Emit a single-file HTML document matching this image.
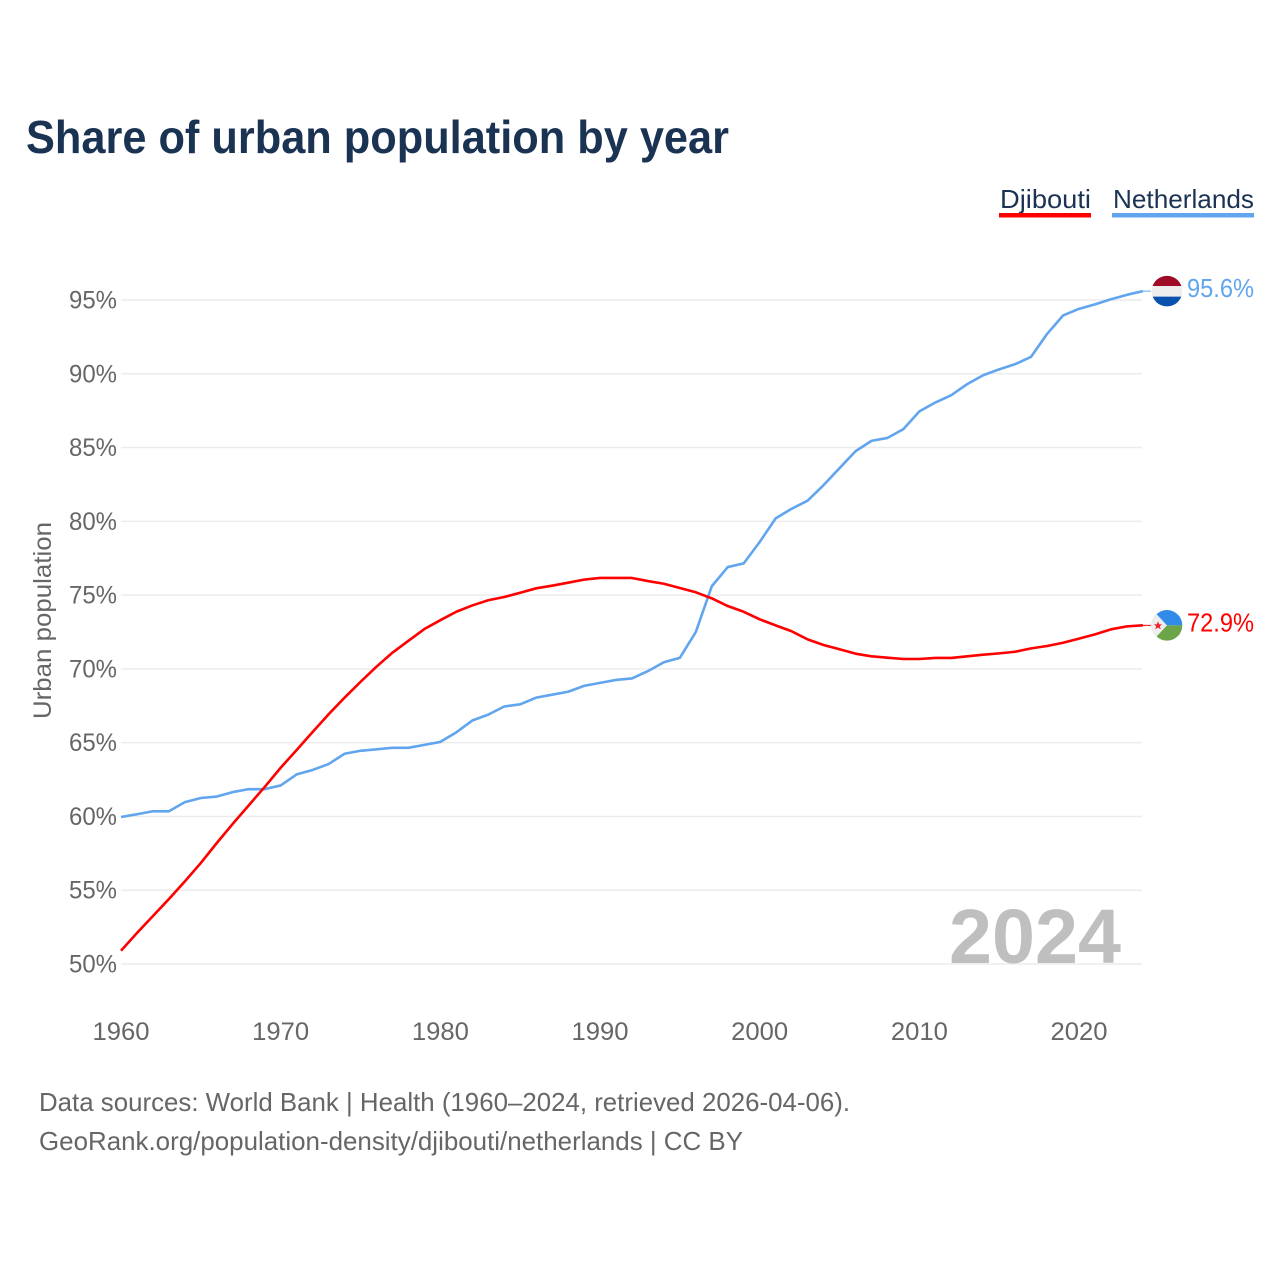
<!DOCTYPE html>
<html lang="en">
<head>
<meta charset="utf-8">
<title>Share of urban population by year</title>
<style>
html,body{margin:0;padding:0;background:#fff;}
svg{display:block;font-family:"Liberation Sans",sans-serif;}
</style>
</head>
<body>
<svg id="chart" xmlns="http://www.w3.org/2000/svg" width="1280" height="1280" viewBox="0 0 1280 1280">
  <defs>
    <clipPath id="flag-clip"><circle cx="0" cy="0" r="15.3"></circle></clipPath>
  </defs>
  <rect x="0" y="0" width="1280" height="1280" fill="#ffffff"></rect>
  <text x="26" y="153" font-size="46" font-weight="700" fill="#1a3353" textLength="703" lengthAdjust="spacingAndGlyphs">Share of urban population by year</text>

  <g>
    <g>
      <text x="1000" y="208" font-size="26" fill="#1a3353" textLength="91" lengthAdjust="spacingAndGlyphs">Djibouti</text>
      <rect x="999" y="213" width="92" height="4.5" fill="#ff0000"></rect>
    </g>
    <g>
      <text x="1113" y="208" font-size="26" fill="#1a3353" textLength="141" lengthAdjust="spacingAndGlyphs">Netherlands</text>
      <rect x="1112" y="213" width="142" height="4.5" fill="#60a5ee"></rect>
    </g>
  </g>

  <g id="grid"></g>
  <text x="1121" y="963" font-size="77" font-weight="700" fill="#bfbfbf" text-anchor="end" textLength="172" lengthAdjust="spacingAndGlyphs">2024</text>
  <g id="yticks"></g>
  <g id="xticks"></g>
  <text transform="translate(51,620.5) rotate(-90)" font-size="25" fill="#666666" text-anchor="middle" textLength="197" lengthAdjust="spacingAndGlyphs">Urban population</text>
  <g id="series"></g>

  <g id="flag-netherlands">
    <g clip-path="url(#flag-clip)">
      <rect x="-16" y="-16" width="32" height="11" fill="#9e0b26"></rect>
      <rect x="-16" y="-5" width="32" height="10.5" fill="#eeeeee"></rect>
      <rect x="-16" y="5.5" width="32" height="11" fill="#0a51ae"></rect>
    </g>
  </g>
  <g id="flag-djibouti">
    <g clip-path="url(#flag-clip)">
      <rect x="-16" y="-16" width="32" height="16" fill="#318be8"></rect>
      <rect x="-16" y="0" width="32" height="16" fill="#6ba547"></rect>
      <polygon points="-13,-14 0,0 -13,14 -17,14 -17,-14" fill="#eeeeee"></polygon>
      <polygon points="-9,-4 -7.8,-1 -4.8,-1 -7.2,0.9 -6.3,4 -9,2.1 -11.7,4 -10.8,0.9 -13.2,-1 -10.2,-1" fill="#e8222c"></polygon>
    </g>
  </g>
  <g id="endlabels"></g>

  <text x="39" y="1111" font-size="26" fill="#666666" textLength="811" lengthAdjust="spacingAndGlyphs">Data sources: World Bank | Health (1960–2024, retrieved 2026-04-06).</text>
  <text x="39" y="1150" font-size="26" fill="#666666" textLength="704" lengthAdjust="spacingAndGlyphs">GeoRank.org/population-density/djibouti/netherlands | CC BY</text>
</svg>
<script>
const firstYear = 1960;
const djibouti = [50.9,52.1,53.25,54.4,55.6,56.85,58.2,59.5,60.75,62.0,63.3,64.5,65.72,66.92,68.05,69.12,70.15,71.1,71.9,72.7,73.3,73.87,74.3,74.65,74.87,75.16,75.46,75.64,75.84,76.05,76.16,76.16,76.16,75.95,75.77,75.48,75.19,74.78,74.26,73.87,73.36,72.95,72.55,72.0,71.62,71.33,71.03,70.85,70.76,70.67,70.67,70.74,70.74,70.85,70.96,71.05,71.16,71.39,71.55,71.77,72.05,72.34,72.68,72.88,72.95];
const netherlands = [59.96,60.15,60.35,60.35,60.97,61.25,61.35,61.65,61.85,61.85,62.1,62.85,63.15,63.55,64.25,64.45,64.55,64.65,64.65,64.85,65.05,65.7,66.5,66.9,67.45,67.6,68.05,68.25,68.45,68.85,69.05,69.25,69.35,69.85,70.45,70.75,72.5,75.6,76.9,77.15,78.6,80.2,80.85,81.4,82.45,83.6,84.75,85.45,85.65,86.25,87.45,88.05,88.55,89.3,89.9,90.3,90.65,91.15,92.7,93.95,94.4,94.7,95.05,95.35,95.6];
const yTickValues = [50,55,60,65,70,75,80,85,90,95];
const xTickValues = [1960,1970,1980,1990,2000,2010,2020];
const endLabelDjibouti = '72.9%';
const endLabelNetherlands = '95.6%';

const SVGNS = 'http://www.w3.org/2000/svg';
const xScale = function (year) { return 121 + (year - 1960) * 15.967; };
const yScale = function (value) { return 964 - (value - 50) * 14.756; };

function make(tag, parentId) {
  const el = document.createElementNS(SVGNS, tag);
  document.getElementById(parentId).appendChild(el);
  return el;
}

yTickValues.forEach(function (v) {
  const line = make('line', 'grid');
  
  
  line.setAttribute('x1', 121);
  line.setAttribute('x2', 1142);
  line.setAttribute('y1', yScale(v));
  line.setAttribute('y2', yScale(v));
  line.setAttribute('stroke', '#ececec');
  line.setAttribute('stroke-width', '1.5');

  const label = make('text', 'yticks');
  
  
  label.setAttribute('x', 117);
  label.setAttribute('y', yScale(v) + 8.5);
  label.setAttribute('font-size', '25');
  label.setAttribute('fill', '#666666');
  label.setAttribute('text-anchor', 'end');
  label.setAttribute('textLength', '48');
  label.setAttribute('lengthAdjust', 'spacingAndGlyphs');
  label.textContent = v + '%';
});

xTickValues.forEach(function (year) {
  const label = make('text', 'xticks');
  
  
  label.setAttribute('x', xScale(year));
  label.setAttribute('y', 1040);
  label.setAttribute('font-size', '25');
  label.setAttribute('fill', '#666666');
  label.setAttribute('text-anchor', 'middle');
  label.setAttribute('textLength', '57');
  label.setAttribute('lengthAdjust', 'spacingAndGlyphs');
  label.textContent = year;
});

function pathFor(values) {
  return values.map(function (v, i) {
    return (i ? 'L' : 'M') + xScale(firstYear + i).toFixed(2) + ' ' + yScale(v).toFixed(2);
  }).join(' ');
}

const lastIndex = netherlands.length - 1;
const lastX = xScale(firstYear + lastIndex);

const nlLine = make('path', 'series');


nlLine.setAttribute('d', pathFor(netherlands));
nlLine.setAttribute('fill', 'none');
nlLine.setAttribute('stroke', '#60a5ee');
nlLine.setAttribute('stroke-width', '2.6');
nlLine.setAttribute('stroke-linejoin', 'round');

const djLine = make('path', 'series');


djLine.setAttribute('d', pathFor(djibouti));
djLine.setAttribute('fill', 'none');
djLine.setAttribute('stroke', '#ff0000');
djLine.setAttribute('stroke-width', '2.6');
djLine.setAttribute('stroke-linejoin', 'round');

const nlStub = make('line', 'series');


nlStub.setAttribute('x1', lastX);
nlStub.setAttribute('x2', lastX + 8);
nlStub.setAttribute('y1', yScale(netherlands[lastIndex]));
nlStub.setAttribute('y2', yScale(netherlands[lastIndex]));
nlStub.setAttribute('stroke', '#60a5ee');
nlStub.setAttribute('stroke-width', '1');

const djStub = make('line', 'series');


djStub.setAttribute('x1', lastX);
djStub.setAttribute('x2', lastX + 8);
djStub.setAttribute('y1', yScale(djibouti[lastIndex]));
djStub.setAttribute('y2', yScale(djibouti[lastIndex]));
djStub.setAttribute('stroke', '#ff0000');
djStub.setAttribute('stroke-width', '1');

document.getElementById('flag-netherlands').setAttribute('transform', 'translate(1167,' + yScale(netherlands[lastIndex]) + ')');
document.getElementById('flag-djibouti').setAttribute('transform', 'translate(1167,' + yScale(djibouti[lastIndex]) + ')');

const nlEnd = make('text', 'endlabels');


nlEnd.setAttribute('x', 1187);
nlEnd.setAttribute('y', yScale(netherlands[lastIndex]) + 6);
nlEnd.setAttribute('font-size', '26');
nlEnd.setAttribute('fill', '#60a5ee');
nlEnd.setAttribute('textLength', '67');
nlEnd.setAttribute('lengthAdjust', 'spacingAndGlyphs');
nlEnd.textContent = endLabelNetherlands;

const djEnd = make('text', 'endlabels');


djEnd.setAttribute('x', 1187);
djEnd.setAttribute('y', yScale(djibouti[lastIndex]) + 6);
djEnd.setAttribute('font-size', '26');
djEnd.setAttribute('fill', '#ff0000');
djEnd.setAttribute('textLength', '67');
djEnd.setAttribute('lengthAdjust', 'spacingAndGlyphs');
djEnd.textContent = endLabelDjibouti;
</script>
</body>
</html>
